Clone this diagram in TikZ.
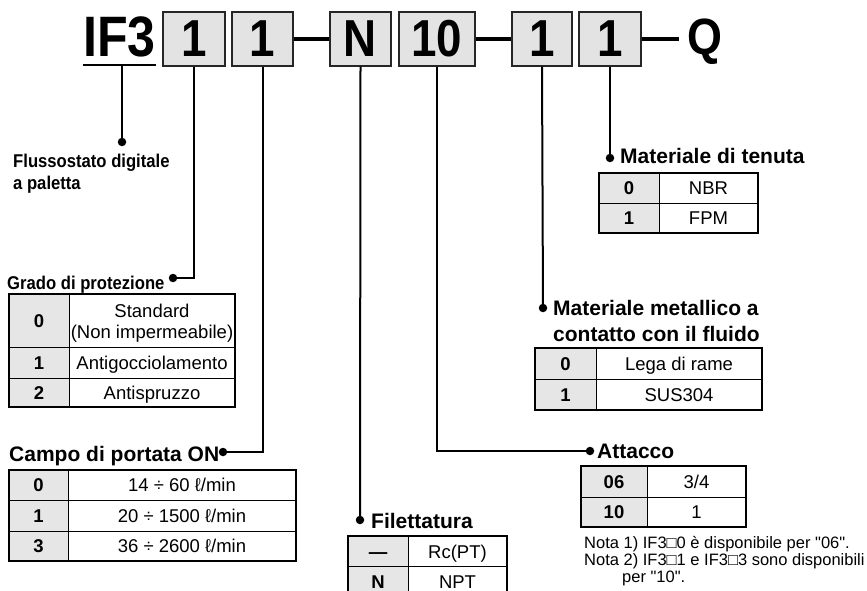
\documentclass[tikz,border=0pt]{standalone}
\usepackage{fontspec}
\setmainfont{Liberation Sans}
\newfontfamily\hdrfont[FakeStretch=0.88]{Liberation Sans Bold}
\newfontfamily\condbold[FakeStretch=0.9]{Liberation Sans Bold}
\newfontfamily\notefont{Liberation Sans}
\definecolor{boxgray}{HTML}{E3E3E3}
\definecolor{keygray}{HTML}{E6E6E6}
\begin{document}
\begin{tikzpicture}[x=1pt,y=-1pt,
  hbox/.style={draw=black!85, line width=1.4pt, fill=boxgray, inner sep=0pt,
    minimum height=54pt, text height=36pt, text depth=0pt,
    font=\hdrfont\fontsize{52}{52}\selectfont},
  htext/.style={anchor=base west, inner sep=0pt, font=\hdrfont\fontsize{57}{57}\selectfont},
  conn/.style={line width=2pt},
  hdash/.style={line width=4pt},
  dot/.style={circle, fill=black, inner sep=0pt, minimum size=8.5pt},
  lbl/.style={anchor=base west, inner sep=0pt, font=\bfseries\fontsize{21}{25}\selectfont},
  slbl/.style={anchor=base west, inner sep=0pt, font=\condbold\fontsize{18.5}{22}\selectfont},
  cell/.style={inner sep=0pt, text height=13pt, text depth=0pt, font=\fontsize{18.5}{22}\selectfont},
  key/.style={cell, font=\bfseries\fontsize{18.5}{22}\selectfont},
  cellb/.style={anchor=base, inner sep=0pt, font=\fontsize{18.5}{22}\selectfont},
  tout/.style={line width=1.6pt},
  tin/.style={line width=0.9pt},
  note/.style={anchor=base west, inner sep=0pt, font=\notefont\fontsize{16.5}{17}\selectfont},
]
\useasboundingbox (0,0) rectangle (867,591);
\clip (0,0) rectangle (867,591);

% ---------- header ----------
\node[htext] (if3) at (83,57) {IF3};
\coordinate (ulL) at (83,65);
\coordinate (ulR) at (156,65);
\coordinate (ulM) at (122,65);
\draw[line width=2pt] (ulL) -- (ulR);
\node[hbox, minimum width=62pt] (b1) at (194,39) {1};
\node[hbox, minimum width=61pt] (b2) at (262.5,39) {1};
\node[hbox, minimum width=61pt] (bN) at (360.5,39) {N};
\node[hbox, minimum width=76pt] (b10) at (437,39) {10};
\node[hbox, minimum width=60pt] (b5) at (542,39) {1};
\node[hbox, minimum width=62pt] (b6) at (610,39) {1};
\node[htext, font=\hdrfont\fontsize{51}{51}\selectfont] (q) at (687,55) {Q};
\draw[hdash] (b2.east) -- (bN.west);
\draw[hdash] (b10.east) -- (b5.west);
\coordinate (qw) at (679,39);
\draw[hdash] (b6.east) -- (qw);

% ---------- dots ----------
\node[dot] (dF) at (122,142) {};
\node[dot] (dG) at (173,278) {};
\node[dot] (dC) at (223,452) {};
\node[dot] (dFi) at (360,520) {};
\node[dot] (dA) at (590,451) {};
\node[dot] (dM) at (543,308) {};
\node[dot] (dT) at (610,158) {};

% ---------- connectors ----------
\draw[conn] (ulM) -- (dF.center);
\draw[conn] (b1.south) |- (dG.center);
\draw[conn] (b2.south) |- (dC.center);
\draw[conn] (bN.south) -- (dFi.center);
\draw[conn] (b10.south) |- (dA.center);
\draw[conn] (b5.south) -- (dM.center);
\draw[conn] (b6.south) -- (dT.center);

% ---------- labels ----------
\node[slbl] (lF1) at (13,167) {Flussostato digitale};
\node[slbl] (lF2) at (13,189) {a paletta};
\node[slbl] (lG) at (7,289) {Grado di protezione};
\node[lbl] (lC) at (9,461) {Campo di portata ON};
\node[lbl] (lFi) at (371,528) {Filettatura};
\node[lbl] (lA) at (597,458) {Attacco};
\node[lbl] (lM1) at (553,315) {Materiale metallico a};
\node[lbl] (lM2) at (553,341) {contatto con il fluido};
\node[lbl] (lT) at (620,164) {Materiale di tenuta};

% ---------- table: Materiale di tenuta ----------
\fill[keygray] (599,173) rectangle (659,233);
\draw[tin] (659,173) -- (659,233) (599,203) -- (758,203);
\draw[tout] (599,173) rectangle (758,233);
\node[key] (t0k) at (629,188) {0};
\node[cell] (t0v) at (708.5,188) {NBR};
\node[key] (t1k) at (629,218) {1};
\node[cell] (t1v) at (708.5,218) {FPM};

% ---------- table: Materiale metallico ----------
\fill[keygray] (535,348) rectangle (596,410);
\draw[tin] (596,348) -- (596,410) (535,379) -- (762,379);
\draw[tout] (535,348) rectangle (762,410);
\node[key] (m0k) at (565.5,363.5) {0};
\node[cell] (m0v) at (679,363.5) {Lega di rame};
\node[key] (m1k) at (565.5,394.5) {1};
\node[cell] (m1v) at (679,394.5) {SUS304};

% ---------- table: Grado di protezione ----------
\fill[keygray] (9,294) rectangle (69,407);
\draw[tin] (69,294) -- (69,407) (9,347) -- (235,347) (9,378) -- (235,378);
\draw[tout] (9,294) rectangle (235,407);
\node[key] (g0k) at (39,320.5) {0};
\node[cellb] (g0v1) at (152,317) {Standard};
\node[cellb] (g0v2) at (152,338) {(Non impermeabile)};
\node[key] (g1k) at (39,362.5) {1};
\node[cell] (g1v) at (152,362.5) {Antigocciolamento};
\node[key] (g2k) at (39,392.5) {2};
\node[cell] (g2v) at (152,392.5) {Antispruzzo};

% ---------- table: Campo di portata ----------
\fill[keygray] (9,470) rectangle (68,561);
\draw[tin] (68,470) -- (68,561) (9,500) -- (296,500) (9,531) -- (296,531);
\draw[tout] (9,470) rectangle (296,561);
\node[key] (c0k) at (38.5,485) {0};
\node[cell] (c0v) at (182,485) {14 ÷ 60 ℓ/min};
\node[key] (c1k) at (38.5,515.5) {1};
\node[cell] (c1v) at (182,515.5) {20 ÷ 1500 ℓ/min};
\node[key] (c3k) at (38.5,546) {3};
\node[cell] (c3v) at (182,546) {36 ÷ 2600 ℓ/min};

% ---------- table: Filettatura ----------
\fill[keygray] (348,536) rectangle (408,597);
\draw[tin] (408,536) -- (408,597) (348,566) -- (507,566);
\draw[tout] (348,536) rectangle (507,597);
\node[key] (f0k) at (378,552) {—};
\node[cell] (f0v) at (457.5,552) {Rc(PT)};
\node[key] (f1k) at (378,582) {N};
\node[cell] (f1v) at (457.5,582) {NPT};

% ---------- table: Attacco ----------
\fill[keygray] (581,466) rectangle (647,527);
\draw[tin] (647,466) -- (647,527) (581,497) -- (746,497);
\draw[tout] (581,466) rectangle (746,527);
\node[key] (a0k) at (614,481.5) {06};
\node[cell] (a0v) at (696.5,481.5) {3/4};
\node[key] (a1k) at (614,512) {10};
\node[cell] (a1v) at (696.5,512) {1};

% ---------- notes ----------
\node[note] (n1) at (584,548) {Nota 1) IF3□0 è disponibile per "06".};
\node[note] (n2) at (584,565) {Nota 2) IF3□1 e IF3□3 sono disponibili};
\node[note] (n3) at (622,582) {per "10".};
\end{tikzpicture}
\end{document}
